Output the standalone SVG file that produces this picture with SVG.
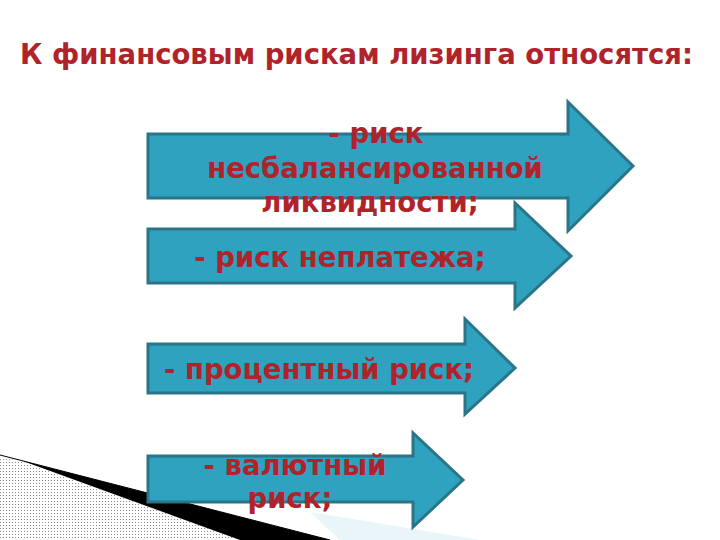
<svg xmlns="http://www.w3.org/2000/svg" width="720" height="540" viewBox="0 0 720 540">
<defs>
<pattern id="dots" width="3" height="3" patternUnits="userSpaceOnUse">
<rect width="3" height="3" fill="#ffffff"/>
<rect x="0" y="0" width="1" height="1" fill="#8a8a8a"/>
</pattern>
<style>
.arrow{fill:#2ea2bf;stroke:#2b7588;stroke-width:3;stroke-linejoin:miter}
.t{font-family:"DejaVu Sans",sans-serif;font-weight:bold;font-size:27.5px;fill:#b1232a;text-anchor:middle}
.title{font-family:"DejaVu Sans",sans-serif;font-weight:bold;font-size:27.5px;fill:#b1232a}
</style>
</defs>
<rect width="720" height="540" fill="#ffffff"/>
<g id="decoration">
<polygon points="0,457 0,540 240,540 20,461" fill="url(#dots)"/>
<polygon points="310,512 340,540 480,540" fill="#eaf5f9"/>
<polygon points="0,455 20,460 240,540 330,540" fill="#000000"/>
<line x1="0" y1="455" x2="330" y2="540" stroke="#000" stroke-width="1"/>
</g>
<text class="title" x="20" y="64">К финансовым рискам лизинга относятся:</text>
<g id="connectors"></g>
<g id="node1">
<polygon class="arrow" points="148,134 568,134 568,102 633,166 568,231 568,198 148,198"/>
<text class="t" x="376" y="143">- риск</text>
<text class="t" x="375" y="178">несбалансированной</text>
<text class="t" x="370" y="212">ликвидности;</text>
</g>
<g id="node2">
<polygon class="arrow" points="148,229 515,229 515,203 571,256 515,308 515,283 148,283"/>
<text class="t" x="340" y="267">- риск неплатежа;</text>
</g>
<g id="node3">
<polygon class="arrow" points="148,344 465,344 465,319 515,368 465,414 465,393 148,393"/>
<text class="t" x="319" y="379">- процентный риск;</text>
</g>
<g id="node4">
<polygon class="arrow" points="148,456 413,456 413,433 463,480 413,527 413,502 148,502"/>
<text class="t" x="295" y="475">- валютный</text>
<text class="t" x="290" y="508">риск;</text>
</g>
</svg>
